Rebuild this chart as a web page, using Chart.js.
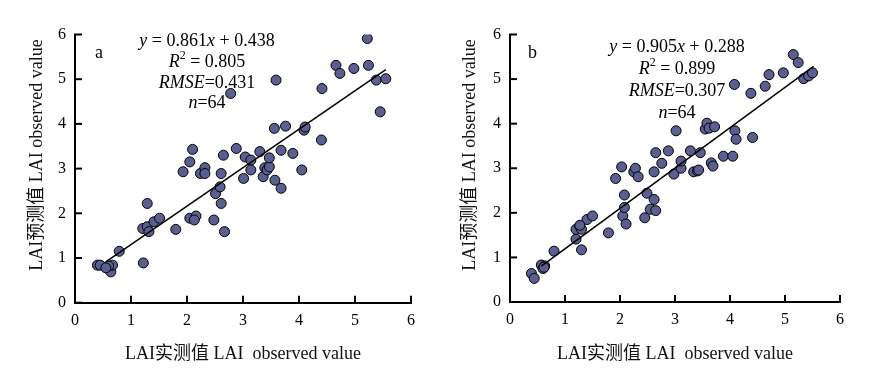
<!DOCTYPE html>
<html lang="en">
<head>
    <meta charset="UTF-8">
    <title>LAI scatter</title>
    <script src="https://cdn.jsdelivr.net/npm/chart.js"></script>
    <style>
        body { margin: 0; background: #fff; }
        .wrap { position: relative; width: 877px; height: 376px; overflow: hidden; }
        .panel { position: absolute; top: 0; }
    </style>
</head>
<body>
<div class="wrap">
    <div class="panel" style="left:0"><canvas id="chartA" width="440" height="376"></canvas></div>
    <div class="panel" style="left:440px"><canvas id="chartB" width="437" height="376"></canvas></div>
</div>
<script>
// 数据：图 a
const obsA = [0.40,0.45,0.61,0.64,0.67,0.60,0.55,0.79,1.22,1.21,1.29,1.29,1.32,1.41,1.51,1.80,
    1.93,2.05,2.10,2.05,2.16,2.13,2.24,2.32,2.32,2.48,2.51,2.59,2.61,2.61,2.65,2.67,
    2.78,2.88,3.01,3.04,3.14,3.14,3.30,3.36,3.39,3.43,3.47,3.47,3.56,3.57,3.59,3.68,
    3.68,3.76,3.89,4.05,4.09,4.11,4.40,4.41,4.66,4.73,4.98,5.22,5.24,5.38,5.45,5.55];
const predA = [0.84,0.84,0.80,0.69,0.84,0.82,0.78,1.15,0.89,1.66,2.22,1.70,1.59,1.81,1.89,1.64,
    2.93,3.15,3.43,1.89,1.94,1.85,2.89,3.02,2.89,1.85,2.44,2.59,2.22,2.89,3.30,1.59,
    4.68,3.45,2.78,3.26,3.19,2.97,3.38,2.82,3.02,2.97,3.04,3.24,3.90,2.74,4.98,3.41,
    2.56,3.95,3.34,2.97,3.86,3.93,3.64,4.79,5.31,5.13,5.24,5.91,5.31,4.98,4.27,5.01];
// 数据：图 b
const obsB = [0.39,0.44,0.57,0.60,0.63,0.62,0.80,1.20,1.20,1.27,1.30,1.30,1.40,1.50,1.79,1.92,
    2.03,2.05,2.08,2.08,2.11,2.25,2.28,2.33,2.45,2.49,2.55,2.62,2.62,2.65,2.65,2.76,
    2.88,2.98,3.02,3.11,3.11,3.28,3.34,3.41,3.43,3.46,3.55,3.58,3.62,3.72,3.66,3.69,
    3.88,4.05,4.09,4.11,4.08,4.38,4.41,4.64,4.71,4.97,5.15,5.24,5.34,5.43,5.50,1.27];
const predB = [0.64,0.53,0.83,0.75,0.81,0.78,1.14,1.41,1.63,1.70,1.63,1.17,1.85,1.93,1.55,2.77,
    3.03,1.93,2.40,2.12,1.75,2.92,3.00,2.81,1.89,2.44,2.08,2.30,2.92,2.05,3.35,3.11,
    3.39,2.87,3.84,3.00,3.16,3.39,2.92,2.94,2.96,3.35,3.88,4.01,3.90,3.93,3.12,3.05,
    3.27,3.27,3.84,3.65,4.88,4.68,3.69,4.84,5.10,5.14,5.55,5.37,5.01,5.07,5.14,1.72];

// 拟合线 [斜率, 截距, 起点, 终点]
const fitA = [0.861, 0.438, 0.55, 5.55];
const fitB = [0.905, 0.288, 0.57, 5.52];
const tickValues = [0, 1, 2, 3, 4, 5, 6];

const statsA = [
    [{t:'y', i:true}, {t:' = 0.861'}, {t:'x', i:true}, {t:' + 0.438'}],
    [{t:'R', i:true}, {t:'2', sup:true}, {t:' = 0.805'}],
    [{t:'RMSE', i:true}, {t:'=0.431'}],
    [{t:'n', i:true}, {t:'=64'}]
];
const statsB = [
    [{t:'y', i:true}, {t:' = 0.905'}, {t:'x', i:true}, {t:' + 0.288'}],
    [{t:'R', i:true}, {t:'2', sup:true}, {t:' = 0.899'}],
    [{t:'RMSE', i:true}, {t:'=0.307'}],
    [{t:'n', i:true}, {t:'=64'}]
];

const xTitle = 'LAI实测值 LAI  observed value';
const yTitle = 'LAI预测值 LAI observed value';
const serif = '"Liberation Serif", "Noto Sans CJK SC", serif';

function fontOf(r, size) {
    return (r.i ? 'italic ' : '') + (r.sup ? Math.round(size * 0.68) : size) + 'px ' + serif;
}

function drawRuns(ctx, runs, cx, y, size) {
    let w = 0;
    runs.forEach(r => { ctx.font = fontOf(r, size); w += ctx.measureText(r.t).width; });
    let x = cx - w / 2;
    runs.forEach(r => {
        ctx.font = fontOf(r, size);
        ctx.fillText(r.t, x, r.sup ? y - size * 0.42 : y);
        x += ctx.measureText(r.t).width;
    });
}

function makeChart(id, obs, pred, fit, stats, letter, cfg) {
    const pts = obs.map((v, k) => ({x: v, y: pred[k]}));
    const line = [fit[2], fit[3]].map(v => ({x: v, y: fit[0] * v + fit[1]}));

    const deco = {
        id: 'deco',
        afterDraw(chart) {
            const ctx = chart.ctx;
            const xs = chart.scales.x, ys = chart.scales.y;
            ctx.save();
            // 内向刻度
            ctx.strokeStyle = '#000';
            ctx.lineWidth = 2;
            tickValues.forEach(v => {
                const py = ys.getPixelForValue(v);
                ctx.beginPath(); ctx.moveTo(xs.left - 1, py); ctx.lineTo(xs.left + 7, py); ctx.stroke();
                const px = xs.getPixelForValue(v);
                ctx.beginPath(); ctx.moveTo(px, ys.bottom + 1); ctx.lineTo(px, ys.bottom - 7); ctx.stroke();
            });
            ctx.fillStyle = '#000';
            ctx.textBaseline = 'alphabetic';
            ctx.textAlign = 'left';
            ctx.font = '18px ' + serif;
            ctx.fillText(letter, cfg.letterX, 58);
            stats.forEach((runs, k) => drawRuns(ctx, runs, cfg.statX, cfg.statY[k], 18));
            // 轴标题
            ctx.font = '18px ' + serif;
            ctx.textAlign = 'center';
            ctx.fillStyle = '#111';
            ctx.fillText(xTitle, (xs.left + xs.right) / 2, 359);
            ctx.translate(cfg.yTitleX, 155);
            ctx.rotate(-Math.PI / 2);
            ctx.textBaseline = 'middle';
            ctx.fillText(yTitle, 0, 0);
            ctx.restore();
        }
    };

    const axis = {
        type: 'linear', min: 0, max: 6,
        grid: {display: false},
        border: {display: true, color: '#000', width: 2},
        ticks: {stepSize: 1, color: '#000', font: {family: serif, size: 16}}
    };

    return new Chart(document.getElementById(id), {
        type: 'scatter',
        data: {
            datasets: [
                {type: 'line', data: line, borderColor: '#000', borderWidth: 1.5, pointRadius: 0, fill: false},
                {data: pts, backgroundColor: '#5b5e90', borderColor: '#000', borderWidth: 1, pointRadius: 5, pointHoverRadius: 5}
            ]
        },
        options: {
            responsive: false,
            devicePixelRatio: 1,
            animation: false,
            events: [],
            layout: {padding: {top: 34.5, right: cfg.right, left: 0, bottom: 0}},
            plugins: {legend: {display: false}, tooltip: {enabled: false}},
            scales: {
                x: Object.assign({}, axis, {
                    ticks: Object.assign({}, axis.ticks, {padding: 0}),
                    afterFit(s) { s.height = 376 - cfg.bottom; }
                }),
                y: Object.assign({}, axis, {
                    ticks: Object.assign({}, axis.ticks, {padding: 1}),
                    afterFit(s) { s.width = cfg.left; }
                })
            }
        },
        plugins: [deco]
    });
}

makeChart('chartA', obsA, predA, fitA, statsA, 'a',
    {left: 75, right: 29, bottom: 302.7, letterX: 95, statX: 207, statY: [46, 67, 88, 108], yTitleX: 37});
makeChart('chartB', obsB, predB, fitB, statsB, 'b',
    {left: 70, right: 37, bottom: 302, letterX: 88, statX: 237, statY: [52, 74, 96, 118], yTitleX: 30});
</script>
</body>
</html>
